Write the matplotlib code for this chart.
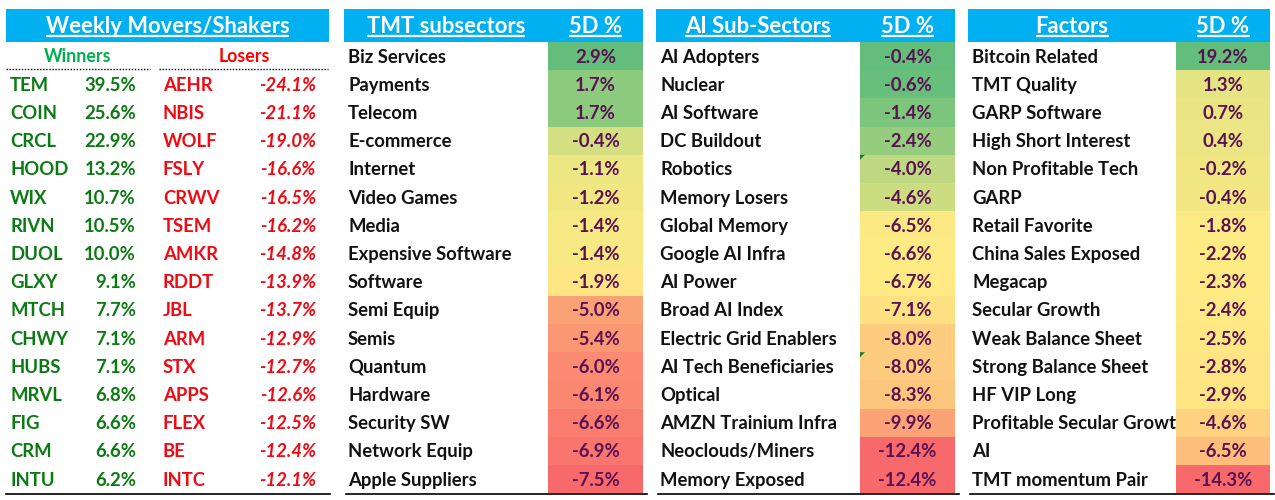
import numpy as np
import matplotlib
matplotlib.use('Agg')
from matplotlib import pyplot as pl
from matplotlib.patches import Rectangle, Polygon

pl.rcParams['font.family'] = ['Lato', 'DejaVu Sans']

# weekly movers
winners = ['TEM', 'COIN', 'CRCL', 'HOOD', 'WIX', 'RIVN', 'DUOL', 'GLXY',
           'MTCH', 'CHWY', 'HUBS', 'MRVL', 'FIG', 'CRM', 'INTU']
winner_pct = [39.5, 25.6, 22.9, 13.2, 10.7, 10.5, 10.0, 9.1,
              7.7, 7.1, 7.1, 6.8, 6.6, 6.6, 6.2]
losers = ['AEHR', 'NBIS', 'WOLF', 'FSLY', 'CRWV', 'TSEM', 'AMKR', 'RDDT',
          'JBL', 'ARM', 'STX', 'APPS', 'FLEX', 'BE', 'INTC']
loser_pct = [-24.1, -21.1, -19.0, -16.6, -16.5, -16.2, -14.8, -13.9,
             -13.7, -12.9, -12.7, -12.6, -12.5, -12.4, -12.1]

tmt_names = ['Biz Services', 'Payments', 'Telecom', 'E-commerce', 'Internet',
             'Video Games', 'Media', 'Expensive Software', 'Software',
             'Semi Equip', 'Semis', 'Quantum', 'Hardware', 'Security SW',
             'Network Equip', 'Apple Suppliers']
tmt_pct = [2.9, 1.7, 1.7, -0.4, -1.1, -1.2, -1.4, -1.4, -1.9,
           -5.0, -5.4, -6.0, -6.1, -6.6, -6.9, -7.5]

ai_names = ['AI Adopters', 'Nuclear', 'AI Software', 'DC Buildout', 'Robotics',
            'Memory Losers', 'Global Memory', 'Google AI Infra', 'AI Power',
            'Broad AI Index', 'Electric Grid Enablers', 'AI Tech Beneficiaries',
            'Optical', 'AMZN Trainium Infra', 'Neoclouds/Miners',
            'Memory Exposed']
ai_pct = [-0.4, -0.6, -1.4, -2.4, -4.0, -4.6, -6.5, -6.6, -6.7,
          -7.1, -8.0, -8.0, -8.3, -9.9, -12.4, -12.4]
ai_flagged = ['Robotics', 'AI Tech Beneficiaries']

factor_names = ['Bitcoin Related', 'TMT Quality', 'GARP Software',
                'High Short Interest', 'Non Profitable Tech', 'GARP',
                'Retail Favorite', 'China Sales Exposed', 'Megacap',
                'Secular Growth', 'Weak Balance Sheet', 'Strong Balance Sheet',
                'HF VIP Long', 'Profitable Secular Growth', 'AI',
                'TMT momentum Pair']
factor_pct = [19.2, 1.3, 0.7, 0.4, -0.2, -0.4, -1.8, -2.2, -2.3,
              -2.4, -2.5, -2.8, -2.9, -4.6, -6.5, -14.3]

BLUE = '#00B0F0'
VALTXT = '#5A1152'
RED = np.array([248, 105, 107]) / 255
YEL = np.array([255, 235, 132]) / 255
GRN = np.array([99, 190, 123]) / 255

top = 42.0
rowh = 28.2
fs = 13.3
hfs = 15.8


def scale_colors(vals):
    # excel style 3 colour scale: min / 50th pct / max
    vals = np.asarray(vals, dtype=float)
    lo, mid, hi = vals.min(), np.percentile(vals, 50), vals.max()
    out = []
    for v in vals:
        if v >= mid:
            t = (v - mid) / (hi - mid) if hi > mid else 0
            out.append(YEL + (GRN - YEL) * t)
        else:
            t = (mid - v) / (mid - lo) if mid > lo else 0
            out.append(YEL + (RED - YEL) * t)
    return out


def ycen(i):
    return top + (i + 0.5) * rowh


fig = pl.figure(figsize=(12.75, 5), dpi=100)
ax = fig.add_axes([0, 0, 1, 1])
ax.set_xlim(0, 1275)
ax.set_ylim(500, 0)
ax.axis('off')

headers = []


def header(x0, x1, label, cx):
    ax.add_patch(Rectangle((x0, 9), x1 - x0, top - 9, color=BLUE, lw=0))
    t = ax.text(cx, 33, label, color='white', fontsize=hfs, fontweight='bold',
                ha='center', va='baseline')
    headers.append(t)


# ---- panel 1: movers
header(6, 329, 'Weekly Movers/Shakers', 167.5)
ax.text(78, ycen(0) + 6, 'Winners', color='#00B050', fontsize=fs - 0.5,
        fontweight='bold', ha='center', va='baseline')
ax.text(244, ycen(0) + 6, 'Losers', color='#FF0000', fontsize=fs - 0.5,
        fontweight='bold', ha='center', va='baseline')
ax.plot([6, 150], [69, 69], color='black', lw=1, ls=(0, (1, 1.2)))
ax.plot([159, 328], [69, 69], color='black', lw=1, ls=(0, (1, 1.2)))
for i in range(len(winners)):
    y = ycen(i + 1) + 6.5
    ax.text(10, y, winners[i], color='#0B7A12', fontsize=fs,
            fontweight='bold', va='baseline')
    ax.text(136, y, f'{winner_pct[i]:.1f}%', color='#0B7A12', fontsize=fs,
            fontweight='bold', ha='right', va='baseline')
    ax.text(163, y, losers[i], color='#F00A14', fontsize=fs,
            fontweight='bold', va='baseline')
    ax.text(316, y, f'{loser_pct[i]:.1f}%', color='#F00A14', fontsize=fs,
            fontweight='bold', style='italic', ha='right', va='baseline')
ax.plot([6, 330], [494, 494], color='black', lw=1.2)


def table(x0, xv, x1, title, names, vals, flagged=()):
    header(x0, x1, title, (x0 + xv) / 2)
    t = ax.text((xv + x1) / 2, 33, '5D %', color='white', fontsize=hfs,
                fontweight='bold', ha='center', va='baseline')
    headers.append(t)
    cols = scale_colors(vals)
    for i in range(len(names)):
        yc = ycen(i)
        ax.text(x0 + 4, yc + 6.5, names[i], color='#111111', fontsize=fs,
                fontweight='bold', va='baseline', zorder=1)
        ax.add_patch(Rectangle((xv, yc - rowh / 2), x1 - xv, rowh,
                               facecolor=cols[i], lw=0, zorder=2))
        ax.text((xv + x1) / 2, yc + 6.5, f'{vals[i]:.1f}%', color=VALTXT,
                fontsize=fs, fontweight='bold', ha='center', va='baseline',
                zorder=3)
        if names[i] in flagged:
            y0 = yc - rowh / 2
            ax.add_patch(Polygon([[xv, y0], [xv + 5, y0], [xv, y0 + 5]],
                                 closed=True, color='#1E7B2A', lw=0, zorder=4))
    # long labels get hidden behind the value cells
    ax.plot([x0 + 2, x1 + 4], [494, 494], color='black', lw=1.2, zorder=3)


table(344, 548, 643, 'TMT subsectors', tmt_names, tmt_pct)
table(656, 860, 955, 'AI Sub-Sectors', ai_names, ai_pct, ai_flagged)
table(968, 1176, 1270, 'Factors', factor_names, factor_pct)

# underline header texts
fig.canvas.draw()
r = fig.canvas.get_renderer()
inv = ax.transData.inverted()
for t in headers:
    bb = t.get_window_extent(renderer=r)
    (xa, _), (xb, _) = inv.transform([[bb.x0, bb.y0], [bb.x1, bb.y0]])
    ax.plot([xa, xb], [36, 36], color='white', lw=1.6, solid_capstyle='butt')

fig.savefig('out.png', dpi=100)
